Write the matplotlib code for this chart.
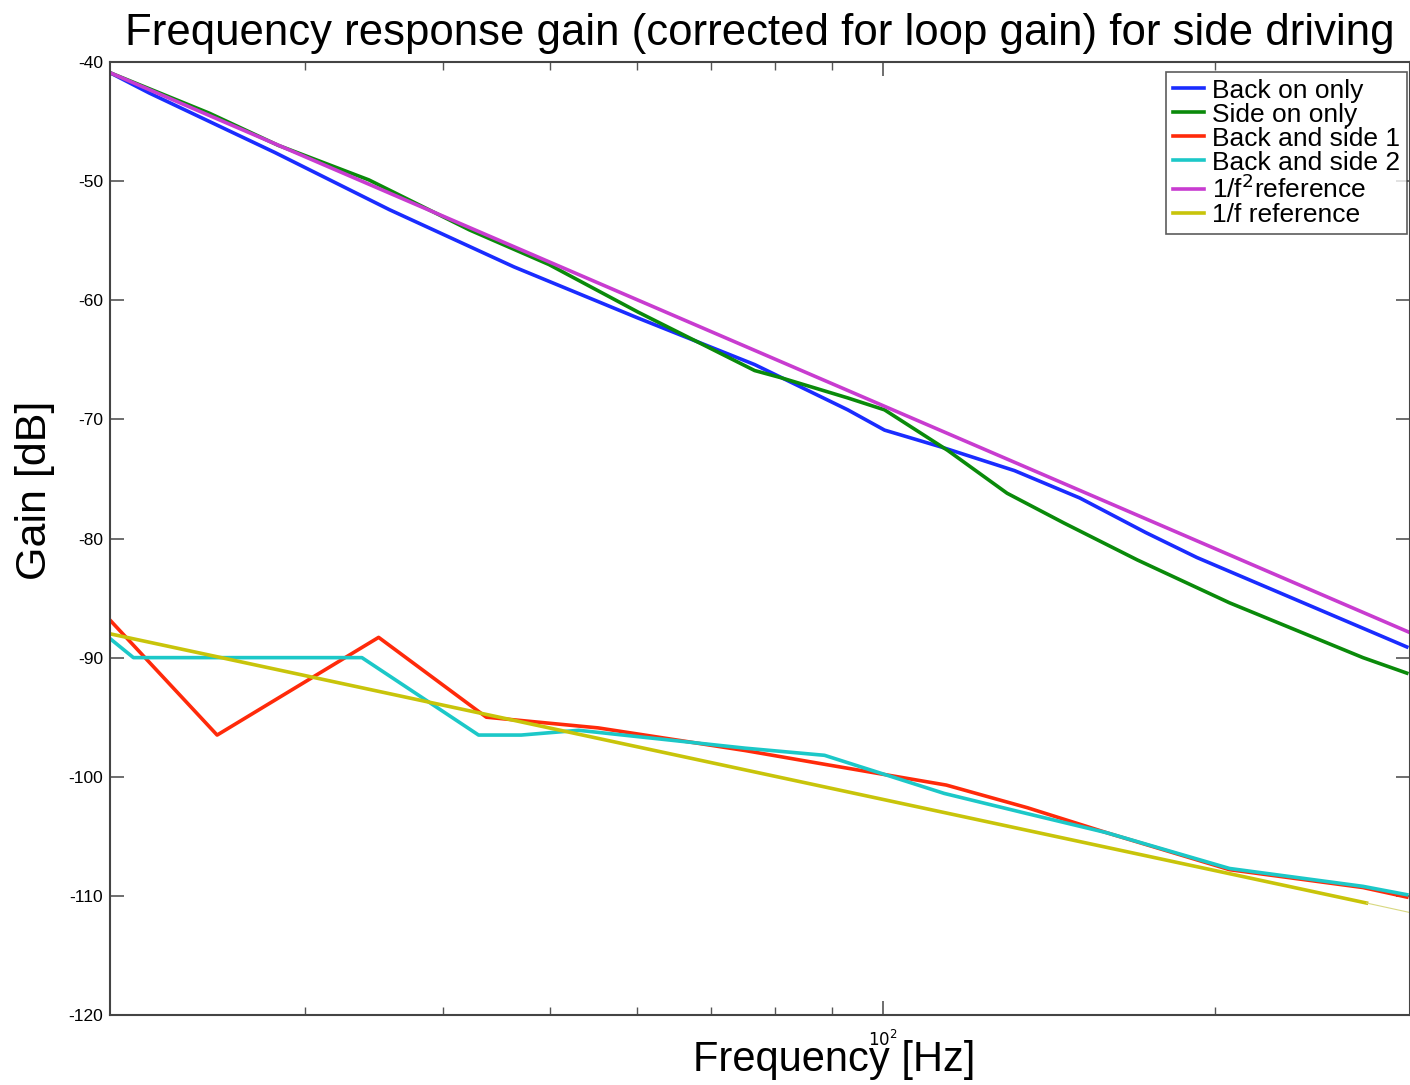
import matplotlib
matplotlib.use("Agg")
import matplotlib.pyplot as plt
from matplotlib.ticker import FixedLocator, NullFormatter

plt.rcParams['font.family'] = ['Liberation Sans', 'DejaVu Sans']

# data (frequency in Hz, gain in dB)
back_f = [20, 21.7, 28.2, 35.8, 46.4, 60.1, 76.6, 93.0, 100.4, 112.8, 131.6, 150.8, 173, 192.5, 298]
back_db = [-40.9, -42.6, -47.6, -52.4, -57.2, -61.5, -65.4, -69.2, -70.9, -72.3, -74.3, -76.6, -79.5, -81.6, -89.1]

side_f = [20, 24.6, 28.4, 34.3, 42.3, 49.9, 60.1, 76.6, 80.9, 93.0, 100.4, 114.5, 129.6, 145.9, 170, 206, 272, 298]
side_db = [-40.9, -44.3, -47.0, -49.9, -54.1, -57.0, -61.0, -65.9, -66.5, -68.2, -69.2, -72.6, -76.2, -78.7, -81.8, -85.4, -90.0, -91.3]

bs1_f = [20, 25.0, 35.0, 43.8, 55.3, 75.1, 89.2, 114.2, 135.2, 159.5, 206, 272, 298]
bs1_db = [-86.85, -96.5, -88.3, -95.0, -95.9, -97.8, -99.0, -100.7, -102.6, -104.7, -107.8, -109.3, -110.1]

bs2_f = [20, 21.0, 33.8, 43.1, 47.1, 53.1, 75.1, 88.6, 113.7, 135.2, 159.5, 206, 272, 298]
bs2_db = [-88.4, -90.0, -90.0, -96.5, -96.5, -96.1, -97.6, -98.2, -101.4, -103.1, -104.7, -107.7, -109.2, -109.9]

ref2_f = [20, 300]
ref2_db = [-40.9, -87.9]

ref1_f = [20, 274]
ref1_db = [-88.0, -110.6]
ref1_tail_f = [274, 300]
ref1_tail_db = [-110.6, -111.4]

yticks = [-120, -110, -100, -90, -80, -70, -60, -50, -40]
xminor = [30, 40, 50, 60, 70, 80, 90, 200]

fig = plt.figure(figsize=(14.1, 10.85), dpi=100)
ax = fig.add_axes([110 / 1410, 1 - 1015 / 1085, 1300 / 1410, 953 / 1085])

lw = 2.6
ax.plot(back_f, back_db, color='#1a2cff', lw=lw, label='Back on only')
ax.plot(side_f, side_db, color='#0a8a0a', lw=lw, label='Side on only')
ax.plot(bs1_f, bs1_db, color='#ff2a0a', lw=lw, label='Back and side 1')
ax.plot(bs2_f, bs2_db, color='#1cc8c8', lw=lw, label='Back and side 2')
ax.plot(ref2_f, ref2_db, color='#c83cd0', lw=lw, label='1/f$^2$reference')
ax.plot(ref1_f, ref1_db, color='#c8c40a', lw=lw, label='1/f reference')
ax.plot(ref1_tail_f, ref1_tail_db, color='#d8d880', lw=0.8)

ax.set_xscale('log')
ax.set_xlim(20, 300)
ax.set_ylim(-120, -40)
ax.xaxis.set_major_locator(FixedLocator([100]))
ax.xaxis.set_minor_locator(FixedLocator(xminor))
ax.xaxis.set_minor_formatter(NullFormatter())
ax.set_xticklabels(['$10^{2}$'], fontsize=12)
ax.set_yticks(yticks)
ax.set_yticklabels([str(t) for t in yticks], fontsize=12.5)

ax.tick_params(which='both', direction='in', top=True, right=True, color='#555555')
ax.tick_params(which='major', length=10, width=1.2, pad=5)
ax.tick_params(axis='x', which='major', pad=10)
ax.tick_params(which='minor', length=6, width=1.0)
for s in ax.spines.values():
    s.set_color('#444444')
    s.set_linewidth(1.5)

ax.set_title('Frequency response gain (corrected for loop gain) for side driving', fontsize=31.5, pad=12)
ax.set_xlabel('Frequency [Hz]', fontsize=30)
ax.xaxis.set_label_coords((834 - 110) / 1300, -0.026)
ax.set_ylabel('Gain [dB]', fontsize=31)
ax.yaxis.set_label_coords(-0.042, (1015 - 490) / 953)

leg = ax.legend(loc='upper right', bbox_to_anchor=(1407 / 1410, 1 - 72 / 1085),
                bbox_transform=fig.transFigure, borderaxespad=0,
                fontsize=19, frameon=True, fancybox=False, handlelength=1.2,
                handletextpad=0.3, labelspacing=0.0, borderpad=0.25)
leg.get_frame().set_edgecolor('#333333')
leg.get_frame().set_linewidth(1.2)

fig.savefig('out.png', dpi=100)
